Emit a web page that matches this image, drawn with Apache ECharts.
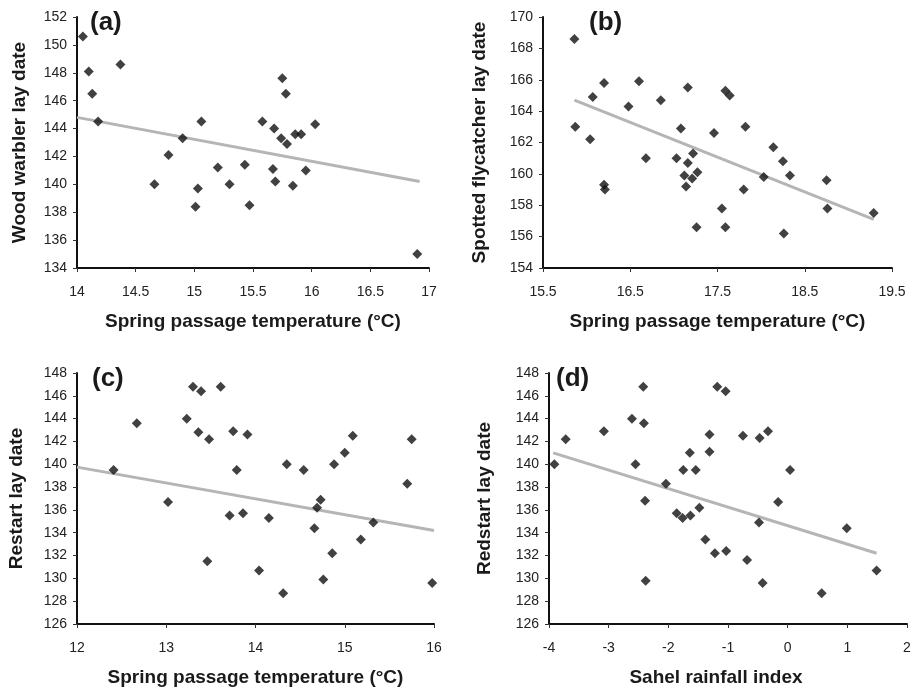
<!DOCTYPE html>
<html lang="en">
<head>
    <meta charset="UTF-8">
    <title>Lay date vs spring temperature and Sahel rainfall</title>
    <script src="https://cdn.jsdelivr.net/npm/echarts@6.0.0/dist/echarts.min.js"></script>
    <style type="text/css">
        html, body { margin: 0; padding: 0; background: #fff; }
    </style>
</head>
<body>
<div id="main" style="width: 915px;height:689px;"></div>

<script>
    // (a) wood warbler
    var tempA = [14.05, 14.10, 14.13, 14.18, 14.37, 14.66, 14.78, 14.90, 15.01, 15.03, 15.06, 15.20, 15.30, 15.43, 15.47,
        15.58, 15.68, 15.67, 15.69, 15.74, 15.75, 15.78, 15.79, 15.84, 15.86, 15.91, 15.95, 16.03, 16.90];
    var layA = [150.6, 148.1, 146.5, 144.5, 148.6, 140.0, 142.1, 143.3, 138.4, 139.7, 144.5, 141.2, 140.0, 141.4, 138.5,
        144.5, 144.0, 141.1, 140.2, 143.3, 147.6, 146.5, 142.9, 139.9, 143.6, 143.6, 141.0, 144.3, 135.0];
    var trendAx = [14, 16.92];
    var trendAy = [144.8, 140.2];

    // (b) spotted flycatcher
    var tempB = [15.86, 15.87, 16.04, 16.07, 16.20, 16.20, 16.21, 16.48, 16.60, 16.68, 16.85, 17.03, 17.08, 17.12, 17.14,
        17.16, 17.16, 17.22, 17.21, 17.27, 17.26, 17.46, 17.55, 17.59, 17.59, 17.64, 17.82, 17.80, 18.03, 18.14,
        18.25, 18.33, 18.26, 18.75, 18.76, 19.29];
    var layB = [168.6, 163.0, 162.2, 164.9, 165.8, 159.3, 159.0, 164.3, 165.9, 161.0, 164.7, 161.0, 162.9, 159.9, 159.2,
        160.7, 165.5, 161.3, 159.7, 160.1, 156.6, 162.6, 157.8, 156.6, 165.3, 165.0, 163.0, 159.0, 159.8, 161.7,
        160.8, 159.9, 156.2, 159.6, 157.8, 157.5];
    var trendBx = [15.86, 19.29];
    var trendBy = [164.7, 157.1];

    // (c) redstart vs temperature
    var tempC = [12.41, 12.67, 13.02, 13.23, 13.30, 13.36, 13.39, 13.48, 13.46, 13.61, 13.75, 13.79, 13.91, 13.71, 13.86,
        14.15, 14.04, 14.31, 14.35, 14.54, 14.66, 14.69, 14.73, 14.76, 14.86, 14.88, 15.00, 15.09, 15.18, 15.32,
        15.70, 15.75, 15.98];
    var layC = [139.5, 143.6, 136.7, 144.0, 146.8, 142.8, 146.4, 142.2, 131.5, 146.8, 142.9, 139.5, 142.6, 135.5, 135.7,
        135.3, 130.7, 128.7, 140.0, 139.5, 134.4, 136.2, 136.9, 129.9, 132.2, 140.0, 141.0, 142.5, 133.4, 134.9,
        138.3, 142.2, 129.6];
    var trendCx = [12, 16];
    var trendCy = [139.75, 134.2];

    // (d) redstart vs Sahel rainfall
    var rainD = [-3.91, -3.72, -3.08, -2.61, -2.55, -2.42, -2.41, -2.39, -2.38, -2.04, -1.86, -1.76, -1.75, -1.64, -1.54,
        -1.63, -1.48, -1.38, -1.22, -1.18, -1.04, -1.03, -1.31, -1.31, -0.75, -0.68, -0.47, -0.48, -0.42, -0.33,
        -0.16, 0.04, 0.57, 0.99, 1.49];
    var layD = [140.0, 142.2, 142.9, 144.0, 140.0, 146.8, 143.6, 136.8, 129.8, 138.3, 135.7, 135.3, 139.5, 141.0, 139.5,
        135.5, 136.2, 133.4, 132.2, 146.8, 146.4, 132.4, 142.6, 141.1, 142.5, 131.6, 142.3, 134.9, 129.6, 142.9,
        136.7, 139.5, 128.7, 134.4, 130.7];
    var trendDx = [-3.93, 1.49];
    var trendDy = [141.0, 132.2];

    var FONT = "'Liberation Sans', Arial, sans-serif";

    function zip(xs, ys) {
        return xs.map(function (x, i) { return [x, ys[i]]; });
    }

    function xAxisOf(idx, min, max, interval, name, namePad) {
        return {
            gridIndex: idx, type: 'value', min: min, max: max, interval: interval,
            name: name, nameLocation: 'middle', nameGap: 44,
            nameTextStyle: {fontFamily: FONT, fontSize: 19, fontWeight: 'bold', color: '#1a1a1a', padding: namePad || 0},
            axisLine: {show: true, onZero: false, lineStyle: {color: '#111', width: 2}},
            axisTick: {show: true, inside: false, length: 4, lineStyle: {color: '#333', width: 1}},
            axisLabel: {fontFamily: FONT, fontSize: 14, color: '#222', margin: 17},
            splitLine: {show: false}
        };
    }

    function yAxisOf(idx, min, max, name, gap) {
        return {
            gridIndex: idx, type: 'value', min: min, max: max, interval: 2,
            name: name, nameLocation: 'middle', nameGap: gap,
            nameTextStyle: {fontFamily: FONT, fontSize: 19, fontWeight: 'bold', color: '#1a1a1a'},
            axisLine: {show: true, onZero: false, lineStyle: {color: '#111', width: 2}},
            axisTick: {show: true, inside: false, length: 4, lineStyle: {color: '#333', width: 1}},
            axisLabel: {fontFamily: FONT, fontSize: 14, color: '#222', margin: 10},
            splitLine: {show: false}
        };
    }

    function panel(idx, xs, ys, tx, ty) {
        return [{
            type: 'line', xAxisIndex: idx, yAxisIndex: idx, z: 2,
            data: zip(tx, ty), symbol: 'none', silent: true,
            lineStyle: {color: '#b5b5b5', width: 3}
        }, {
            type: 'scatter', xAxisIndex: idx, yAxisIndex: idx, z: 3,
            data: zip(xs, ys), symbol: 'diamond', symbolSize: 10,
            itemStyle: {color: '#111'}
        }];
    }

    function label(txt, left, top) {
        return {
            text: txt, left: left, top: top,
            textStyle: {fontFamily: FONT, fontSize: 26, fontWeight: 'bold', color: '#1a1a1a'}
        };
    }

    var myChart = echarts.init(document.getElementById('main'));
    var option = {
        animation: false,
        backgroundColor: '#fff',
        title: [label('(a)', 85, 5), label('(b)', 584, 5), label('(c)', 87, 361), label('(d)', 551, 361)],
        grid: [
            {left: 77, top: 17, width: 352, height: 251},
            {left: 543, top: 17, width: 349, height: 251},
            {left: 77, top: 373, width: 357, height: 251},
            {left: 549, top: 373, width: 358, height: 251}
        ],
        xAxis: [
            xAxisOf(0, 14, 17, 0.5, 'Spring passage temperature (°C)'),
            xAxisOf(1, 15.5, 19.5, 1, 'Spring passage temperature (°C)'),
            xAxisOf(2, 12, 16, 1, 'Spring passage temperature (°C)'),
            xAxisOf(3, -4, 2, 1, 'Sahel rainfall index', [0, 24, 0, 0])
        ],
        yAxis: [
            yAxisOf(0, 134, 152, 'Wood warbler lay date', 48),
            yAxisOf(1, 154, 170, 'Spotted flycatcher lay date', 54),
            yAxisOf(2, 126, 148, 'Restart lay date', 51),
            yAxisOf(3, 126, 148, 'Redstart lay date', 55)
        ],
        series: [].concat(
            panel(0, tempA, layA, trendAx, trendAy),
            panel(1, tempB, layB, trendBx, trendBy),
            panel(2, tempC, layC, trendCx, trendCy),
            panel(3, rainD, layD, trendDx, trendDy)
        )
    };
    myChart.setOption(option);
</script>
</body>
</html>
